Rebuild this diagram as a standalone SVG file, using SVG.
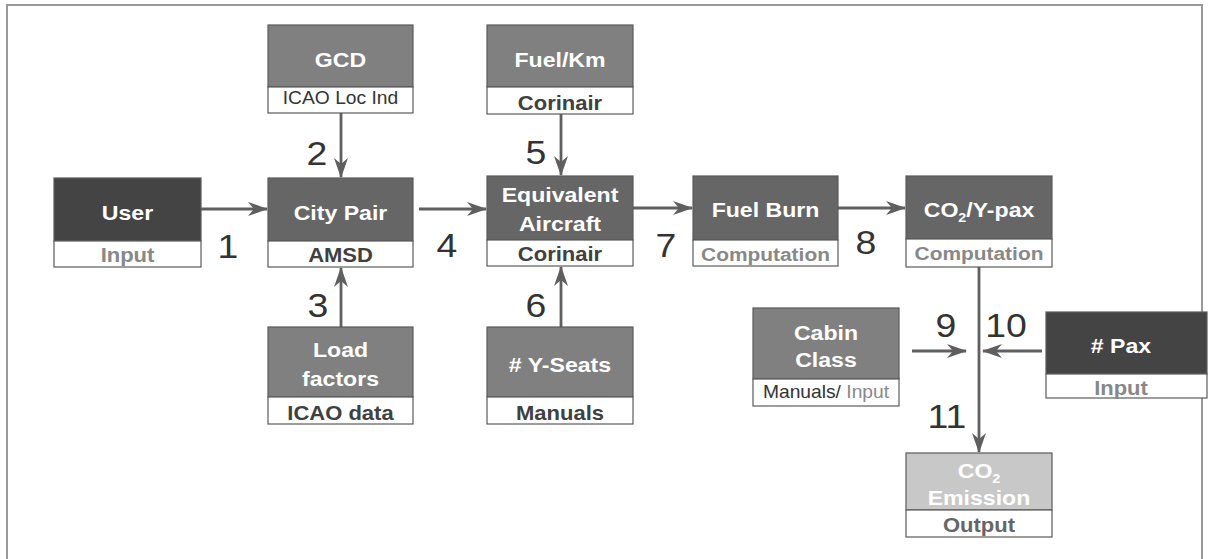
<svg xmlns="http://www.w3.org/2000/svg" width="1209" height="559" viewBox="0 0 1209 559">
<style>
.hd{stroke:#5a5a5a;stroke-width:1.2}
.sb{fill:#fff;stroke:#5a5a5a;stroke-width:1.2}
.ht{font-family:"Liberation Sans",Arial,sans-serif;font-weight:bold;font-size:21px;fill:#fff;text-anchor:middle}
.st{font-family:"Liberation Sans",Arial,sans-serif;font-weight:bold;font-size:20px;text-anchor:middle}
.sr{font-family:"Liberation Sans",Arial,sans-serif;font-size:17.5px;text-anchor:middle;fill:#333}
.num{font-family:"Liberation Sans",Arial,sans-serif;font-size:34px;fill:#333;text-anchor:middle}
.c{stroke:#5f5f5f;stroke-width:2.8;fill:none;marker-end:url(#ah)}
</style>
<defs>
<marker id="ah" markerUnits="userSpaceOnUse" markerWidth="20" markerHeight="15" refX="19" refY="7" orient="auto" viewBox="0 0 20 14">
<path d="M0,0 L20,7 L0,14 L6,7 z" fill="#5f5f5f"/>
</marker>
</defs>
<rect x="0" y="0" width="1209" height="559" fill="#fff"/>
<rect x="7" y="5" width="1195" height="565" fill="none" stroke="#999" stroke-width="2"/>

<g id="connectors">
<line class="c" x1="201" y1="209" x2="267" y2="209"/>
<line class="c" x1="419" y1="209" x2="486" y2="209"/>
<line class="c" x1="633" y1="208" x2="692" y2="208"/>
<line class="c" x1="838" y1="208" x2="905" y2="208"/>
<line class="c" x1="341" y1="113" x2="341" y2="177"/>
<line class="c" x1="341" y1="327" x2="341" y2="268"/>
<line class="c" x1="561" y1="114" x2="561" y2="175"/>
<line class="c" x1="561" y1="327" x2="561" y2="267"/>
<line class="c" x1="979" y1="267" x2="979" y2="452"/>
<line class="c" x1="912" y1="351" x2="966" y2="351"/>
<line class="c" x1="1042" y1="351" x2="983" y2="351"/>
</g>

<g id="labels">
<text class="num" transform="matrix(1.1 0 0 1 228 258)">1</text>
<text class="num" transform="matrix(1.1 0 0 1 317 165)">2</text>
<text class="num" transform="matrix(1.1 0 0 1 318 317)">3</text>
<text class="num" transform="matrix(1.1 0 0 1 447 257)">4</text>
<text class="num" transform="matrix(1.1 0 0 1 536 164)">5</text>
<text class="num" transform="matrix(1.1 0 0 1 536 317)">6</text>
<text class="num" transform="matrix(1.1 0 0 1 666 257)">7</text>
<text class="num" transform="matrix(1.1 0 0 1 866 254)">8</text>
<text class="num" transform="matrix(1.1 0 0 1 946 337)">9</text>
<text class="num" transform="matrix(1.1 0 0 1 1006 337)">10</text>
<text class="num" transform="matrix(1.1 0 0 1 947 428)">11</text>
</g>

<g id="gcd">
<rect class="hd" x="268" y="25" width="145" height="62" fill="#808080"/>
<rect class="sb" x="268" y="87" width="145" height="26"/>
<text class="ht" transform="matrix(1.1 0 0 1 340.5 67)">GCD</text>
<text class="sr" transform="matrix(1.1 0 0 1 340.5 104)">ICAO Loc Ind</text>
</g>

<g id="user">
<rect class="hd" x="54" y="178" width="147" height="63" fill="#444"/>
<rect class="sb" x="54" y="241" width="147" height="26"/>
<text class="ht" transform="matrix(1.1 0 0 1 127.5 220)">User</text>
<text class="st" transform="matrix(1.1 0 0 1 127.5 262)" fill="#888">Input</text>
</g>

<g id="citypair">
<rect class="hd" x="268" y="178" width="145" height="63" fill="#666"/>
<rect class="sb" x="268" y="241" width="145" height="26"/>
<text class="ht" transform="matrix(1.1 0 0 1 340.5 220)">City Pair</text>
<text class="st" transform="matrix(1.1 0 0 1 340.5 262)" fill="#404040">AMSD</text>
</g>

<g id="fuelkm">
<rect class="hd" x="487" y="25" width="146" height="62" fill="#808080"/>
<rect class="sb" x="487" y="87" width="146" height="27"/>
<text class="ht" transform="matrix(1.1 0 0 1 560 67)">Fuel/Km</text>
<text class="st" transform="matrix(1.1 0 0 1 560 110)" fill="#404040">Corinair</text>
</g>

<g id="equiv">
<rect class="hd" x="487" y="176" width="146" height="64" fill="#666"/>
<rect class="sb" x="487" y="240" width="146" height="26"/>
<text class="ht" transform="matrix(1.1 0 0 1 560 202)">Equivalent</text>
<text class="ht" transform="matrix(1.1 0 0 1 560 231)">Aircraft</text>
<text class="st" transform="matrix(1.1 0 0 1 560 261)" fill="#404040">Corinair</text>
</g>

<g id="fuelburn">
<rect class="hd" x="693" y="176" width="145" height="64" fill="#666"/>
<rect class="sb" x="693" y="240" width="145" height="26"/>
<text class="ht" transform="matrix(1.1 0 0 1 765.5 217)">Fuel Burn</text>
<text class="st" transform="matrix(1.1 0 0 1 765.5 261)" fill="#888" style="font-size:19px">Computation</text>
</g>

<g id="co2ypax">
<rect class="hd" x="906" y="176" width="146" height="63" fill="#666"/>
<rect class="sb" x="906" y="239" width="146" height="28"/>
<text class="ht" transform="matrix(1.1 0 0 1 979 217)">CO<tspan font-size="13" dy="5">2</tspan><tspan dy="-5">/Y-pax</tspan></text>
<text class="st" transform="matrix(1.1 0 0 1 979 260)" fill="#888" style="font-size:19px">Computation</text>
</g>

<g id="loadfactors">
<rect class="hd" x="268" y="327" width="145" height="70" fill="#808080"/>
<rect class="sb" x="268" y="397" width="145" height="27"/>
<text class="ht" transform="matrix(1.1 0 0 1 340.5 357)">Load</text>
<text class="ht" transform="matrix(1.1 0 0 1 340.5 386)">factors</text>
<text class="st" transform="matrix(1.1 0 0 1 340.5 420)" fill="#404040">ICAO data</text>
</g>

<g id="yseats">
<rect class="hd" x="487" y="327" width="146" height="70" fill="#808080"/>
<rect class="sb" x="487" y="397" width="146" height="27"/>
<text class="ht" transform="matrix(1.1 0 0 1 560 372)"># Y-Seats</text>
<text class="st" transform="matrix(1.1 0 0 1 560 420)" fill="#404040">Manuals</text>
</g>

<g id="cabinclass">
<rect class="hd" x="753" y="308" width="146" height="71" fill="#808080"/>
<rect class="sb" x="753" y="379" width="146" height="27"/>
<text class="ht" transform="matrix(1.1 0 0 1 826 340)">Cabin</text>
<text class="ht" transform="matrix(1.1 0 0 1 826 367)">Class</text>
<text class="sr" transform="matrix(1.1 0 0 1 826 398)">Manuals/ <tspan fill="#888">Input</tspan></text>
</g>

<g id="pax">
<rect class="hd" x="1046" y="312" width="161" height="62" fill="#444"/>
<rect class="sb" x="1046" y="374" width="161" height="24"/>
<text class="ht" transform="matrix(1.1 0 0 1 1121 353)"># Pax</text>
<text class="st" transform="matrix(1.1 0 0 1 1121 395)" fill="#888">Input</text>
</g>

<g id="co2emission">
<rect class="hd" x="906" y="453" width="146" height="57" fill="#c8c8c8"/>
<rect class="sb" x="906" y="510" width="146" height="27"/>
<text class="ht" transform="matrix(1.1 0 0 1 979 478)">CO<tspan font-size="13" dy="5">2</tspan></text>
<text class="ht" transform="matrix(1.1 0 0 1 979 505)">Emission</text>
<text class="st" transform="matrix(1.1 0 0 1 979 532)" fill="#666">Output</text>
</g>
</svg>
